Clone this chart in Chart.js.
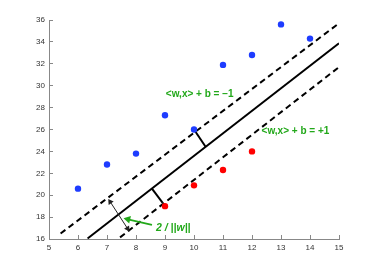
<!DOCTYPE html>
<html>
<head>
<meta charset="utf-8">
<script src="https://cdn.jsdelivr.net/npm/chart.js@4/dist/chart.umd.min.js"></script>
<style>
  html, body { margin: 0; padding: 0; background: #fff; }
  #wrap { width: 374px; height: 270px; }
</style>
</head>
<body>
<div id="wrap"><canvas id="svmChart"></canvas></div>
<script>
// data
const blueX = [6, 7, 8, 9, 10, 11, 12, 13, 14];
const blueY = [20.6, 22.8, 23.8, 27.3, 26.0, 31.9, 32.8, 35.6, 34.3];
const redX = [9, 10, 11, 12];
const redY = [19.0, 20.9, 22.3, 24.0];

// separating line and margins (end points)
const hyperX = [6.33, 15];
const hyperY = [16.05, 33.87];
const marginUpX = [5.4, 15];
const marginUpY = [16.5, 35.7];
const marginLowX = [7.45, 15];
const marginLowY = [16.15, 31.7];

// annotation segments
const perpUpX = [10, 10.4];
const perpUpY = [26, 24.42];
const perpLowX = [8.55, 8.92];
const perpLowY = [20.6, 19.3];
const widthArrowX = [7.11, 7.71];
const widthArrowY = [19.4, 16.95];
const pointerX = [8.55, 7.72];
const pointerY = [17.28, 17.8];

const labelText = ['<w,x> + b = \u22121', '<w,x> + b = +1', '2 / ||w||'];
const labelX = [9.03, 12.33, 8.69];
const labelY = [29.2, 25.86, 17.0];

const xMin = 5, xMax = 15, xStep = 1;
const yMin = 16, yMax = 36, yStep = 2;

const GREEN = '#22a81a';

function pts(xs, ys) {
  return xs.map((x, i) => ({ x: x, y: ys[i] }));
}

function segment(xs, ys, extra) {
  return Object.assign({
    type: 'line',
    data: pts(xs, ys),
    borderColor: '#000',
    borderWidth: 2,
    pointRadius: 0,
    fill: false,
    showLine: true,
  }, extra || {});
}

// text labels placed in data coordinates
const labelPlugin = {
  id: 'labels',
  afterDatasetsDraw(chart) {
    const ctx = chart.ctx;
    const xs = chart.scales.x;
    const ys = chart.scales.y;
    ctx.save();
    ctx.fillStyle = GREEN;
    ctx.textBaseline = 'middle';
    ctx.textAlign = 'left';
    labelText.forEach((t, i) => {
      ctx.font = i === 2 ? 'italic bold 10.5px "Liberation Sans"' : 'bold 10px "Liberation Sans"';
      ctx.fillText(t, xs.getPixelForValue(labelX[i]), ys.getPixelForValue(labelY[i]));
    });
    ctx.restore();
  }
};

const ctx = document.getElementById('svmChart').getContext('2d');
const svmChart = new Chart(ctx, {
  type: 'scatter',
  data: {
    datasets: [
      {
        data: pts(blueX, blueY),
        backgroundColor: '#1e3cff',
        borderWidth: 0,
        pointRadius: 3.2,
      },
      {
        data: pts(redX, redY),
        backgroundColor: '#ff0000',
        borderWidth: 0,
        pointRadius: 3.2,
      },
      segment(perpUpX, perpUpY),
      segment(perpLowX, perpLowY),
      segment(widthArrowX, widthArrowY, {
        borderWidth: 1,
        borderColor: '#222',
        backgroundColor: '#222',
        pointStyle: 'triangle',
        pointRadius: 3.5,
        pointBorderWidth: 0,
        pointRotation: [-34.3, 145.7],
      }),
      segment(pointerX, pointerY, {
        borderColor: GREEN,
        backgroundColor: GREEN,
        borderWidth: 1.8,
        pointStyle: 'triangle',
        pointRadius: [0, 4.5],
        pointBorderWidth: 0,
        pointRotation: [0, -77.2],
      }),
      segment(hyperX, hyperY),
      segment(marginUpX, marginUpY, { borderDash: [6, 4] }),
      segment(marginLowX, marginLowY, { borderDash: [6, 4] }),
    ],
  },
  options: {
    responsive: true,
    maintainAspectRatio: false,
    animation: false,
    layout: {
      padding: { left: 0, right: 35, top: 20, bottom: 11 },
    },
    plugins: {
      legend: { display: false },
      tooltip: { enabled: false },
    },
    scales: {
      x: {
        type: 'linear',
        min: xMin,
        max: xMax,
        afterFit: (s) => { s.height = 20; },
        ticks: {
          stepSize: xStep,
          padding: 8,
          color: '#333',
          font: { family: 'Liberation Sans', size: 8 },
        },
        grid: {
          drawOnChartArea: false,
          drawTicks: true,
          tickLength: -4,
          color: '#888',
        },
        border: { display: true, color: '#888', width: 1 },
      },
      y: {
        type: 'linear',
        min: yMin,
        max: yMax,
        afterFit: (s) => { s.width = 49; },
        ticks: {
          stepSize: yStep,
          padding: 8,
          color: '#333',
          font: { family: 'Liberation Sans', size: 8 },
        },
        grid: {
          drawOnChartArea: false,
          drawTicks: true,
          tickLength: -4,
          color: '#888',
        },
        border: { display: true, color: '#888', width: 1 },
      },
    },
  },
  plugins: [labelPlugin],
});
</script>
</body>
</html>
